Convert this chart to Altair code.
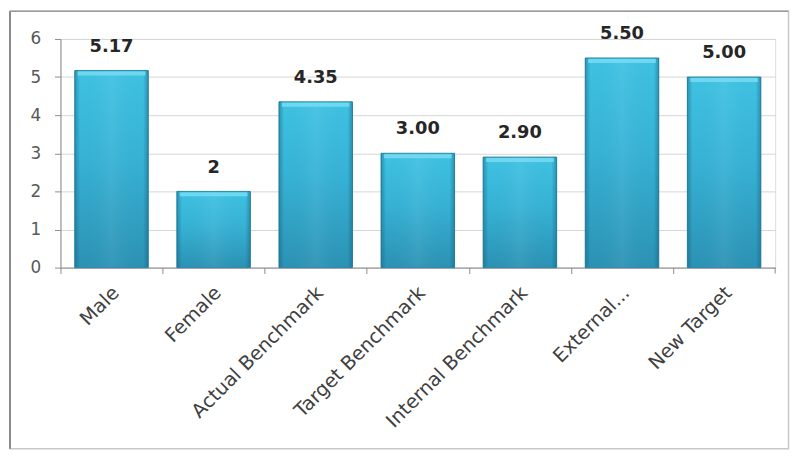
import altair as alt
import pandas as pd

categories = ["Male", "Female", "Actual Benchmark", "Target Benchmark",
              "Internal  Benchmark", "External...", "New Target"]
values = [5.17, 2, 4.35, 3.00, 2.90, 5.50, 5.00]
value_labels = ["5.17", "2", "4.35", "3.00", "2.90", "5.50", "5.00"]
y_ticks = [0, 1, 2, 3, 4, 5, 6]

df = pd.DataFrame({"cat": categories, "val": values, "lbl": value_labels})

W, H = 722, 231
FONT = "DejaVu Sans"
step = W / len(categories)

xscale = alt.Scale(paddingInner=0.28, paddingOuter=0.14)
yscale = alt.Scale(domain=[0, 6], nice=False)

x_enc = alt.X("cat:N", sort=categories, scale=xscale, title=None,
              axis=alt.Axis(labelAngle=-45, labelAlign="right", labelBaseline="middle",
                            labelFont=FONT, labelFontSize=19.5, labelColor="#404040",
                            labelPadding=16, tickSize=6, tickColor="#8C8C8C",
                            domainColor="#8C8C8C", tickOffset=-step / 2,
                            labelOffset=step / 2 + 4, grid=False, labelOverlap=False,
                            labelLimit=400))
y_enc = alt.Y("val:Q", scale=yscale, title=None,
              axis=alt.Axis(values=y_ticks, labelFont=FONT, labelFontSize=17,
                            labelColor="#595959", labelPadding=14, tickSize=6,
                            tickColor="#8C8C8C", domainColor="#8C8C8C",
                            grid=True, gridColor="#D6D6D6", format="d",
                            labelOverlap=False, tickCount=7))

base = alt.Chart(df)

bars = base.mark_bar(
    fill=alt.Gradient(gradient="linear", x1=0, x2=0, y1=0, y2=1,
                      stops=[alt.GradientStop(color="#3FC2E2", offset=0),
                             alt.GradientStop(color="#36B2D5", offset=0.45),
                             alt.GradientStop(color="#2B92B4", offset=1)]),
    stroke="#2A86A6", strokeWidth=1
).encode(x=x_enc, y=y_enc)

edges = base.mark_bar(
    fill=alt.Gradient(gradient="linear", x1=0, x2=1, y1=0, y2=0,
                      stops=[alt.GradientStop(color="rgba(20,90,120,0.45)", offset=0),
                             alt.GradientStop(color="rgba(20,90,120,0)", offset=0.07),
                             alt.GradientStop(color="rgba(255,255,255,0.06)", offset=0.5),
                             alt.GradientStop(color="rgba(20,90,120,0)", offset=0.93),
                             alt.GradientStop(color="rgba(20,90,120,0.45)", offset=1)])
).encode(x=x_enc, y=y_enc)

highlight = base.mark_tick(color="#74DAF3", thickness=4, size=step * 0.72 - 6,
                           yOffset=3, opacity=0.9).encode(x=x_enc, y=y_enc)

labels = base.mark_text(font=FONT, fontSize=18, fontWeight="bold", color="#262626",
                        baseline="middle", dy=-24).encode(x=x_enc, y=y_enc, text="lbl:N")

one = pd.DataFrame({"k": [0]})
end_tick = alt.Chart(one).mark_rule(color="#8C8C8C").encode(
    x=alt.value(W), y=alt.value(H), y2=alt.value(H + 6))

frame = alt.Chart(one).mark_rect(fill="transparent", stroke="#C8C8C8", strokeWidth=1.5).encode(
    x=alt.value(-51), x2=alt.value(735.5), y=alt.value(-28), y2=alt.value(414))
frame_left = alt.Chart(one).mark_rule(color="#8A8A8A", strokeWidth=2).encode(
    x=alt.value(-51), y=alt.value(-28), y2=alt.value(414))
frame_top = alt.Chart(one).mark_rule(color="#9A9A9A", strokeWidth=1.5).encode(
    x=alt.value(-51), x2=alt.value(735.5), y=alt.value(-28))

chart = alt.layer(bars, edges, highlight, labels, end_tick, frame, frame_left, frame_top).properties(
    width=W, height=H,
    autosize=alt.AutoSizeParams(type="none"),
    padding={"left": 53, "top": 29, "right": 15, "bottom": 184},
).configure_view(stroke=None).configure(background="white")

chart.save("out.html", embed_options={"renderer": "svg", "actions": False})
